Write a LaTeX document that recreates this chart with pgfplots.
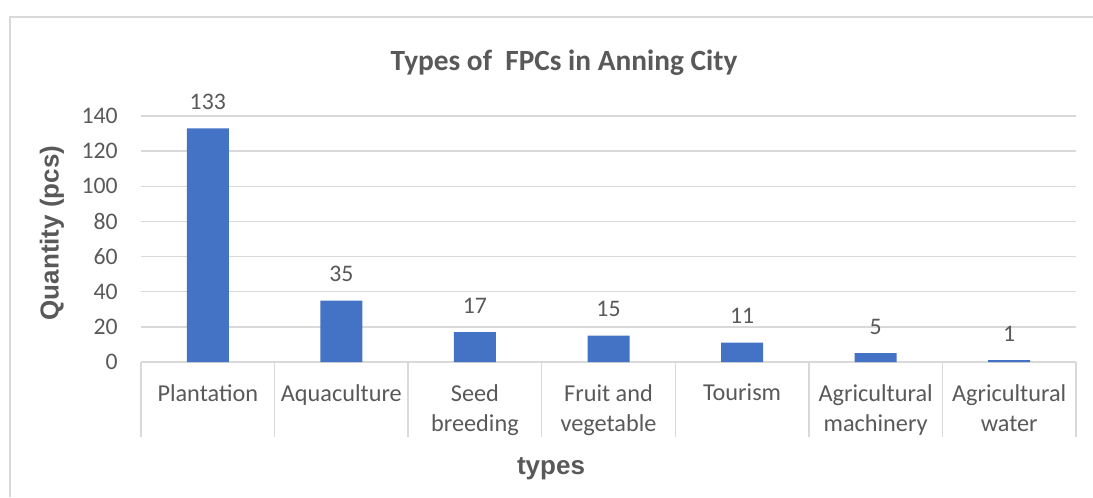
\documentclass[border=0pt]{standalone}
\usepackage{pgfplots}
\pgfplotsset{compat=1.18}
\usepackage{fontspec}
\setmainfont{Carlito}
\newfontfamily\labelfont{Liberation Sans}

\definecolor{barblue}{HTML}{4472C4}
\definecolor{txtgray}{HTML}{595959}
\definecolor{gridgray}{HTML}{D9D9D9}

\begin{document}
\begin{tikzpicture}[x=0.75pt,y=0.75pt]
  % coordinates in pixels of the 1093x497 picture, measured from the bottom left
  \useasboundingbox (0,0) rectangle (1093,497);
  \coordinate (plotorigin) at (141,135);
  \draw[gridgray, line width=1pt] (10,0) -- (10,480) -- (1093,480);
  \node[text=txtgray, font=\fontsize{22}{26}\selectfont\bfseries] at (564,434) {Types of \ FPCs in Anning City};
  \node[text=txtgray, rotate=90, font=\labelfont\fontsize{19.5}{22}\selectfont\bfseries] at (52,264) {Quantity (pcs)};
  \node[text=txtgray, font=\labelfont\fontsize{19.5}{22}\selectfont\bfseries] at (551,28) {types};
  \begin{axis}[
      at={(plotorigin)}, anchor=south west,
      scale only axis, width=701.25pt, height=184.5pt,
      xmin=0.5, xmax=7.5, ymin=0, ymax=140,
      ybar, bar width=31.5pt,
      axis line style={draw=none},
      major tick length=0pt,
      ytick={0,20,...,140},
      xtick={1,...,7},
      xticklabels={Plantation,Aquaculture,{Seed\\breeding},{Fruit and\\vegetable},Tourism,{Agricultural\\machinery},{Agricultural\\water}},
      ymajorgrids,
      grid style={gridgray, line width=1pt},
      /pgf/number format/assume math mode=true,
      yticklabel style={text=txtgray, font=\fontsize{17.8}{20}\selectfont, anchor=east, inner sep=0pt, xshift=-17.25pt},
      xticklabel style={text=txtgray, font=\fontsize{18.2}{22.5}\selectfont, align=center, anchor=north, inner sep=0pt, yshift=-16.5pt},
      nodes near coords,
      nodes near coords style={text=txtgray, font=\fontsize{17.8}{20}\selectfont, anchor=south, inner sep=0pt, yshift=14pt},
    ]
    \addplot[fill=barblue, draw=none] coordinates {
      (1,133) (2,35) (3,17) (4,15) (5,11) (6,5) (7,1)
    };
  \end{axis}
  % category separators below the axis
  \foreach \i in {0,...,7}
    \draw[gridgray, line width=1pt] ({141+\i*133.57},135) -- ({141+\i*133.57},60);
\end{tikzpicture}
\end{document}
